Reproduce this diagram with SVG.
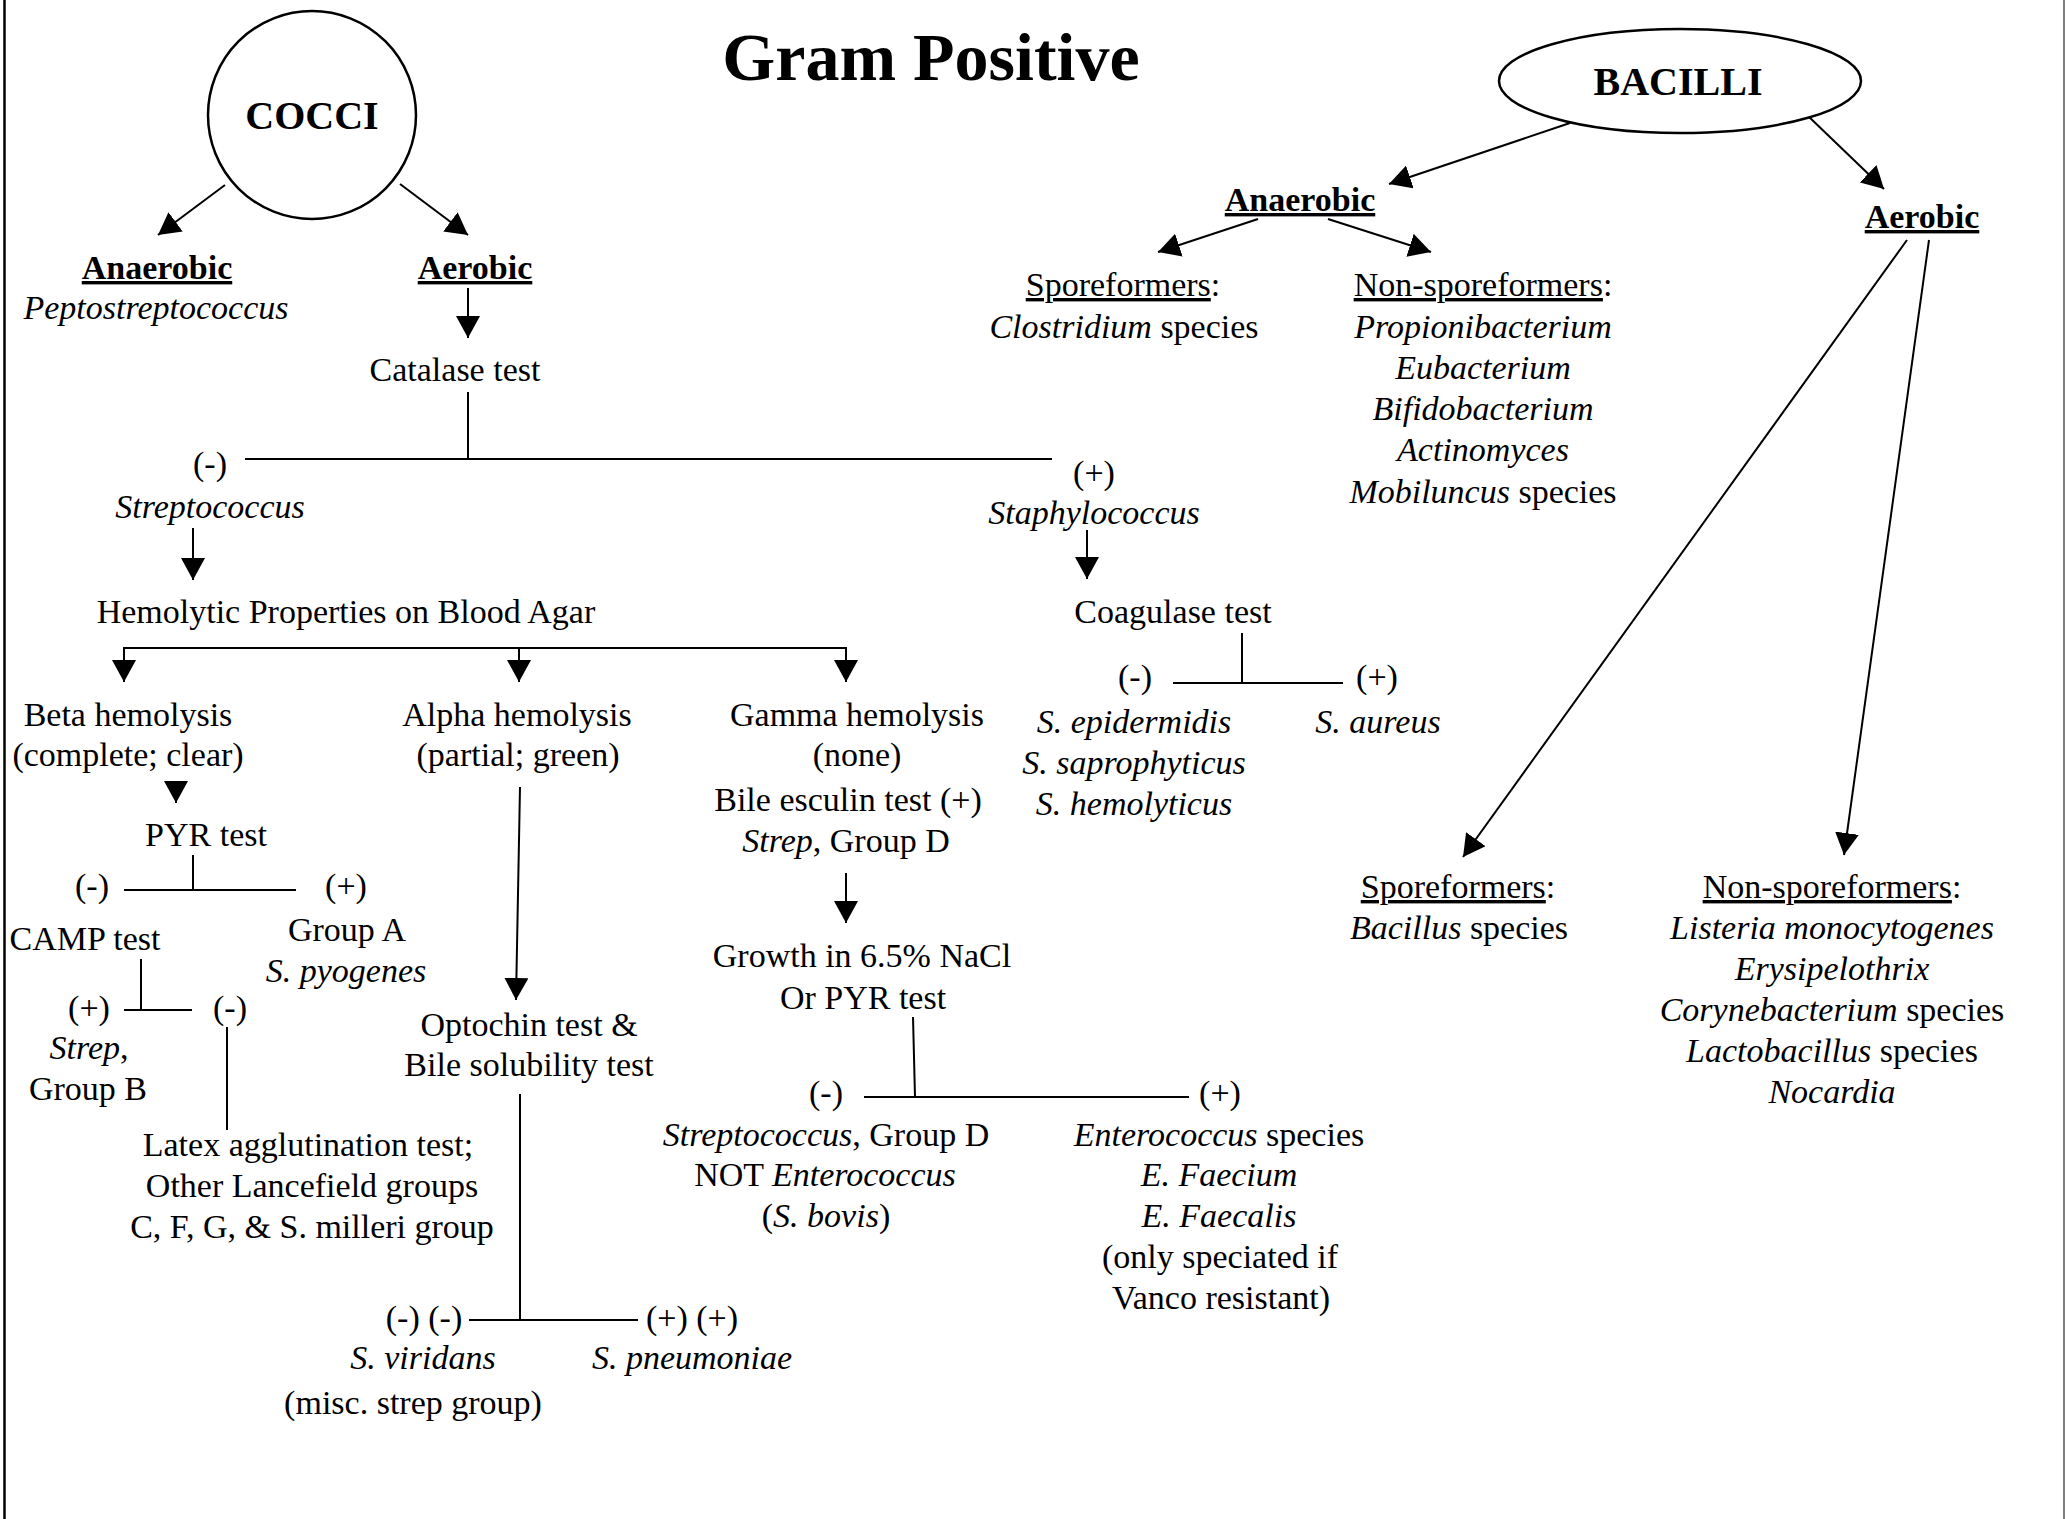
<svg xmlns="http://www.w3.org/2000/svg" width="2065" height="1519" viewBox="0 0 2065 1519">
<style>
text{font-family:"Liberation Serif","Times New Roman",serif;font-size:34px;fill:#000;text-anchor:middle}
.b{font-weight:bold}
.i{font-style:italic}
.u{text-decoration:underline}
.title{font-size:68px;font-weight:bold}
.big{font-size:40px;font-weight:bold}
.c line,.c polyline{stroke:#000;stroke-width:2;fill:none}
.a{marker-end:url(#ah)}
.shape{fill:#fff;stroke:#000;stroke-width:2.5}
</style>
<defs>
<marker id="ah" viewBox="0 0 22 24" refX="22" refY="12" markerWidth="22" markerHeight="24" markerUnits="userSpaceOnUse" orient="auto">
<path d="M0,0 L22,12 L0,24 Z" fill="#000"/>
</marker>
</defs>
<rect x="0" y="0" width="2065" height="1519" fill="#fff"/>
<line x1="4.5" y1="0" x2="4.5" y2="1519" stroke="#000" stroke-width="2.5"/>
<line x1="2064" y1="0" x2="2064" y2="1519" stroke="#555" stroke-width="1.5"/>

<g id="title"><text class="title" x="931" y="80">Gram Positive</text></g>

<g class="c" id="connectors">
<line class="a" x1="225" y1="185" x2="158" y2="235"/>
<line class="a" x1="400" y1="184" x2="468" y2="235"/>
<line class="a" x1="468" y1="288" x2="468" y2="338"/>
<line x1="468" y1="392" x2="468" y2="459"/>
<line x1="245" y1="459" x2="1052" y2="459"/>
<line class="a" x1="1087" y1="530" x2="1087" y2="579"/>
<line x1="1242" y1="633" x2="1242" y2="683"/>
<line x1="1173" y1="683" x2="1343" y2="683"/>
<line class="a" x1="193" y1="528" x2="193" y2="580"/>
<line x1="124" y1="648" x2="846" y2="648"/>
<line class="a" x1="124" y1="647" x2="124" y2="682"/>
<line class="a" x1="519" y1="647" x2="519" y2="682"/>
<line class="a" x1="846" y1="647" x2="846" y2="682"/>
<line class="a" x1="176" y1="781" x2="176" y2="803"/>
<line x1="193" y1="855" x2="193" y2="890"/>
<line x1="124" y1="890" x2="296" y2="890"/>
<line x1="141" y1="959" x2="141" y2="1010"/>
<line x1="124" y1="1010" x2="192" y2="1010"/>
<line x1="227" y1="1027" x2="227" y2="1130"/>
<line class="a" x1="520" y1="787" x2="516" y2="1000"/>
<line x1="520" y1="1094" x2="520" y2="1320"/>
<line x1="469" y1="1320" x2="638" y2="1320"/>
<line class="a" x1="846" y1="873" x2="846" y2="923"/>
<line x1="913" y1="1017" x2="915" y2="1097"/>
<line x1="864" y1="1097" x2="1189" y2="1097"/>
<line class="a" x1="1570" y1="123" x2="1389" y2="184"/>
<line class="a" x1="1807" y1="115" x2="1884" y2="189"/>
<line class="a" x1="1258" y1="219" x2="1158" y2="252"/>
<line class="a" x1="1328" y1="219" x2="1431" y2="252"/>
<line class="a" x1="1907" y1="240" x2="1463" y2="857"/>
<line class="a" x1="1929" y1="240" x2="1844" y2="855"/>
</g>

<g id="cocci"><circle class="shape" cx="312" cy="115" r="104"/><text class="big" x="312" y="129">COCCI</text></g>
<g id="bacilli"><ellipse class="shape" cx="1680" cy="81" rx="181" ry="52"/><text class="big" x="1678" y="95">BACILLI</text></g>

<g id="cocci-anaerobic"><text class="b u" x="157" y="279">Anaerobic</text><text class="i" x="156" y="319">Peptostreptococcus</text></g>
<g id="cocci-aerobic"><text class="b u" x="475" y="279">Aerobic</text></g>
<g id="catalase"><text x="455" y="381">Catalase test</text></g>
<g id="catalase-neg"><text x="210" y="475">(-)</text><text class="i" x="210" y="518">Streptococcus</text></g>
<g id="catalase-pos"><text x="1094" y="484">(+)</text><text class="i" x="1094" y="524">Staphylococcus</text></g>
<g id="coagulase"><text x="1173" y="623">Coagulase test</text></g>
<g id="coag-neg"><text x="1135" y="688">(-)</text><text class="i" x="1134" y="733">S. epidermidis</text><text class="i" x="1134" y="774">S. saprophyticus</text><text class="i" x="1134" y="815">S. hemolyticus</text></g>
<g id="coag-pos"><text x="1377" y="688">(+)</text><text class="i" x="1378" y="733">S. aureus</text></g>

<g id="hemolytic"><text x="346" y="623">Hemolytic Properties on Blood Agar</text></g>
<g id="beta"><text x="128" y="726">Beta hemolysis</text><text x="128" y="766">(complete; clear)</text></g>
<g id="pyr"><text x="206" y="846">PYR test</text></g>
<g id="pyr-neg"><text x="92" y="897">(-)</text><text x="85" y="950">CAMP test</text></g>
<g id="pyr-pos"><text x="346" y="897">(+)</text><text x="347" y="941">Group A</text><text class="i" x="346" y="982">S. pyogenes</text></g>
<g id="camp-pos"><text x="89" y="1019">(+)</text><text x="89" y="1059"><tspan class="i">Strep</tspan>,</text><text x="88" y="1100">Group B</text></g>
<g id="camp-neg"><text x="230" y="1019">(-)</text></g>
<g id="latex"><text x="308" y="1156">Latex agglutination test;</text><text x="312" y="1197">Other Lancefield groups</text><text x="312" y="1238">C, F, G, &amp; S. milleri group</text></g>

<g id="alpha"><text x="517" y="726">Alpha hemolysis</text><text x="518" y="766">(partial; green)</text></g>
<g id="optochin"><text x="529" y="1036">Optochin test &amp;</text><text x="529" y="1076">Bile solubility test</text></g>
<g id="opto-neg"><text x="424" y="1329">(-) (-)</text><text class="i" x="423" y="1369">S. viridans</text><text x="413" y="1414">(misc. strep group)</text></g>
<g id="opto-pos"><text x="692" y="1329">(+) (+)</text><text class="i" x="692" y="1369">S. pneumoniae</text></g>

<g id="gamma"><text x="857" y="726">Gamma hemolysis</text><text x="857" y="766">(none)</text><text x="848" y="811">Bile esculin test (+)</text><text x="846" y="852"><tspan class="i">Strep</tspan>, Group D</text></g>
<g id="growth"><text x="862" y="967">Growth in 6.5% NaCl</text><text x="863" y="1009">Or PYR test</text></g>
<g id="growth-neg"><text x="826" y="1104">(-)</text><text x="826" y="1146"><tspan class="i">Streptococcus</tspan>, Group D</text><text x="825" y="1186">NOT <tspan class="i">Enterococcus</tspan></text><text x="826" y="1227">(<tspan class="i">S. bovis</tspan>)</text></g>
<g id="growth-pos"><text x="1220" y="1104">(+)</text><text x="1219" y="1146"><tspan class="i">Enterococcus</tspan> species</text><text class="i" x="1219" y="1186">E. Faecium</text><text class="i" x="1219" y="1227">E. Faecalis</text><text x="1220" y="1268">(only speciated if</text><text x="1221" y="1309">Vanco resistant)</text></g>

<g id="bacilli-anaerobic"><text class="b u" x="1300" y="211">Anaerobic</text></g>
<g id="bacilli-aerobic"><text class="b u" x="1922" y="228">Aerobic</text></g>
<g id="anaer-spore"><text x="1123" y="296"><tspan class="u">Sporeformers</tspan>:</text><text x="1124" y="338"><tspan class="i">Clostridium</tspan> species</text></g>
<g id="anaer-nonspore"><text x="1483" y="296"><tspan class="u">Non-sporeformers</tspan>:</text><text class="i" x="1483" y="338">Propionibacterium</text><text class="i" x="1483" y="379">Eubacterium</text><text class="i" x="1483" y="420">Bifidobacterium</text><text class="i" x="1483" y="461">Actinomyces</text><text x="1483" y="503"><tspan class="i">Mobiluncus</tspan> species</text></g>
<g id="aer-spore"><text x="1458" y="898"><tspan class="u">Sporeformers</tspan>:</text><text x="1459" y="939"><tspan class="i">Bacillus</tspan> species</text></g>
<g id="aer-nonspore"><text x="1832" y="898"><tspan class="u">Non-sporeformers</tspan>:</text><text class="i" x="1832" y="939">Listeria monocytogenes</text><text class="i" x="1832" y="980">Erysipelothrix</text><text x="1832" y="1021"><tspan class="i">Corynebacterium</tspan> species</text><text x="1832" y="1062"><tspan class="i">Lactobacillus</tspan> species</text><text class="i" x="1832" y="1103">Nocardia</text></g>
</svg>
